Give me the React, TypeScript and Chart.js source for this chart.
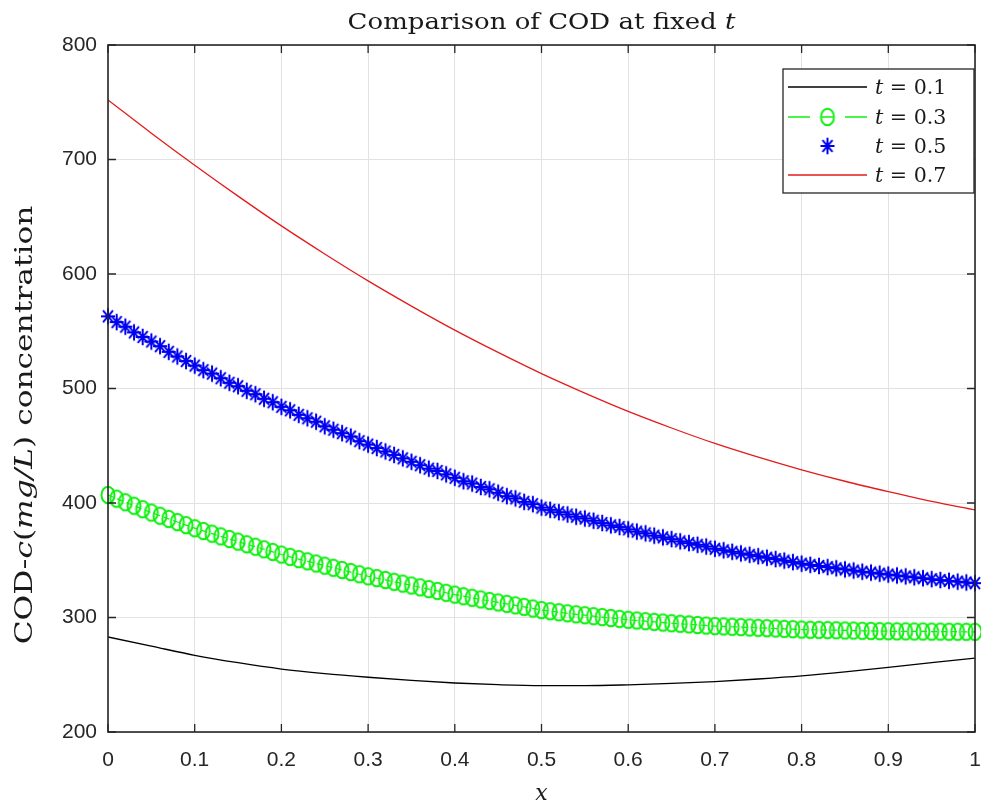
import React, { useEffect, useRef } from "react";
import { Chart, registerables } from "chart.js";

Chart.register(...registerables);

// ---- data ----
const xTicks = [0, 0.1, 0.2, 0.3, 0.4, 0.5, 0.6, 0.7, 0.8, 0.9, 1];
const yTicks = [200, 300, 400, 500, 600, 700, 800];

const xCoarse = [0, 0.05, 0.1, 0.15, 0.2, 0.25, 0.3, 0.35, 0.4, 0.45, 0.5, 0.55, 0.6, 0.65, 0.7, 0.75, 0.8, 0.85, 0.9, 0.95, 1];

const xFine = [
  0, 0.01, 0.02, 0.03, 0.04, 0.05, 0.06, 0.07, 0.08, 0.09,
  0.1, 0.11, 0.12, 0.13, 0.14, 0.15, 0.16, 0.17, 0.18, 0.19,
  0.2, 0.21, 0.22, 0.23, 0.24, 0.25, 0.26, 0.27, 0.28, 0.29,
  0.3, 0.31, 0.32, 0.33, 0.34, 0.35, 0.36, 0.37, 0.38, 0.39,
  0.4, 0.41, 0.42, 0.43, 0.44, 0.45, 0.46, 0.47, 0.48, 0.49,
  0.5, 0.51, 0.52, 0.53, 0.54, 0.55, 0.56, 0.57, 0.58, 0.59,
  0.6, 0.61, 0.62, 0.63, 0.64, 0.65, 0.66, 0.67, 0.68, 0.69,
  0.7, 0.71, 0.72, 0.73, 0.74, 0.75, 0.76, 0.77, 0.78, 0.79,
  0.8, 0.81, 0.82, 0.83, 0.84, 0.85, 0.86, 0.87, 0.88, 0.89,
  0.9, 0.91, 0.92, 0.93, 0.94, 0.95, 0.96, 0.97, 0.98, 0.99, 1,
];

const t01 = [283, 275, 267, 260.5, 255, 251, 247.8, 245, 242.8, 241.3, 240.5, 240.5, 241.2, 242.4, 244, 246.3, 249, 252.5, 256.5, 260.5, 264.5];

const t03 = [
  407, 403.8, 400.7, 397.6, 394.6, 391.7, 388.9, 386.1, 383.4, 380.7,
  378, 375.6, 373.2, 370.9, 368.6, 366.3, 364.0, 361.8, 359.6, 357.3,
  355, 353, 351, 349.1, 347.2, 345.3, 343.4, 341.5, 339.7, 337.8,
  336, 334.4, 332.8, 331.2, 329.6, 328, 326.4, 324.8, 323.2, 321.6,
  320, 318.6, 317.2, 315.8, 314.5, 313.2, 311.9, 310.6, 309.3, 307.9,
  306.5, 305.5, 304.6, 303.7, 302.8, 302, 301.2, 300.4, 299.6, 298.8,
  298, 297.4, 296.8, 296.2, 295.6, 295, 294.5, 294, 293.5, 293,
  292.5, 292.2, 291.9, 291.6, 291.3, 291, 290.7, 290.4, 290.1, 289.8,
  289.5, 289.3, 289.2, 289, 288.9, 288.7, 288.6, 288.4, 288.3, 288.1,
  288, 287.9, 287.9, 287.8, 287.8, 287.7, 287.7, 287.6, 287.6, 287.5, 287.5,
];

const t05 = [
  563, 558, 554, 549, 545, 541, 537, 532, 528, 524,
  520, 516, 513, 509, 505, 502, 498, 495, 491, 488,
  484, 481, 477, 474, 471, 467, 464, 461, 458, 454,
  451, 448, 445, 442, 439, 436, 433, 430, 428, 425,
  422, 419, 417, 414, 412, 409, 406, 404, 401, 399,
  396, 394, 392, 390, 388, 386.5, 384.5, 382.5, 380.5, 379,
  377, 375, 373.5, 371.5, 370, 368.5, 366.5, 365, 363.5, 362,
  360, 358.7, 357.4, 356, 354.8, 353.5, 352.2, 351, 349.7, 348.4,
  347, 346, 345, 344, 343, 342, 341, 340, 339.2, 338.3,
  337.5, 336.7, 335.9, 335.1, 334.3, 333.5, 332.7, 332, 331.3, 330.6, 330,
];

const t07 = [752, 723, 695, 668, 642, 617.5, 594, 572, 551, 531.5, 513, 496, 480, 465.5, 452, 440, 429, 419, 410, 401.5, 394];

const seriesLabels = ["0.1", "0.3", "0.5", "0.7"];
const titleMain = "Comparison of COD at fixed ";
const titleVar = "t";

const SERIF = '"DejaVu Serif", serif';
const AXIS = "#262626";
const GREEN = "#10f010";
const BLUE = "#0000f0";

type Part = { text: string; italic?: boolean };

function makeCircleMarker(): HTMLCanvasElement {
  const c = document.createElement("canvas");
  c.width = 18;
  c.height = 22;
  const g = c.getContext("2d")!;
  g.strokeStyle = GREEN;
  g.lineWidth = 2;
  g.beginPath();
  g.ellipse(9, 11, 6.5, 8.3, 0, 0, Math.PI * 2);
  g.stroke();
  return c;
}

function makeStarMarker(): HTMLCanvasElement {
  const c = document.createElement("canvas");
  c.width = 18;
  c.height = 22;
  const g = c.getContext("2d")!;
  g.strokeStyle = BLUE;
  g.lineWidth = 2;
  const cx = 9, cy = 11, rx = 7, ry = 8.3, qx = 5, qy = 5.9;
  g.beginPath();
  g.moveTo(cx - rx, cy); g.lineTo(cx + rx, cy);
  g.moveTo(cx, cy - ry); g.lineTo(cx, cy + ry);
  g.moveTo(cx - qx, cy - qy); g.lineTo(cx + qx, cy + qy);
  g.moveTo(cx - qx, cy + qy); g.lineTo(cx + qx, cy - qy);
  g.stroke();
  return c;
}

function drawRich(
  ctx: CanvasRenderingContext2D,
  parts: Part[],
  x: number,
  y: number,
  size: number,
  align: "left" | "center",
  stretch = 1
) {
  const fonts = parts.map((p) => `${p.italic ? "italic " : ""}${size}px ${SERIF}`);
  const widths = parts.map((p, i) => {
    ctx.font = fonts[i];
    return ctx.measureText(p.text).width;
  });
  const total = widths.reduce((a, b) => a + b, 0);
  ctx.save();
  ctx.translate(x, y);
  ctx.scale(stretch, 1);
  let cx = align === "center" ? -total / 2 : 0;
  ctx.textAlign = "left";
  ctx.textBaseline = "alphabetic";
  parts.forEach((p, i) => {
    ctx.font = fonts[i];
    ctx.fillText(p.text, cx, 0);
    cx += widths[i];
  });
  ctx.restore();
}

const decor = {
  id: "decor",
  afterDraw(chart: any) {
    const { ctx, chartArea: a, scales } = chart;
    ctx.save();
    // axes box
    ctx.strokeStyle = AXIS;
    ctx.lineWidth = 1.6;
    ctx.strokeRect(a.left, a.top, a.right - a.left, a.bottom - a.top);
    // inward ticks
    ctx.lineWidth = 1.3;
    const tl = 8;
    ctx.beginPath();
    xTicks.forEach((v) => {
      const px = scales.x.getPixelForValue(v);
      ctx.moveTo(px, a.bottom);
      ctx.lineTo(px, a.bottom - tl);
      ctx.moveTo(px, a.top);
      ctx.lineTo(px, a.top + tl);
    });
    yTicks.forEach((v) => {
      const py = scales.y.getPixelForValue(v);
      ctx.moveTo(a.left, py);
      ctx.lineTo(a.left + tl, py);
      ctx.moveTo(a.right, py);
      ctx.lineTo(a.right - tl, py);
    });
    ctx.stroke();

    ctx.fillStyle = "#1a1a1a";
    // title
    drawRich(ctx, [{ text: titleMain }, { text: titleVar, italic: true }], (a.left + a.right) / 2, 29, 23, "center", 1.13);
    // x label
    drawRich(ctx, [{ text: "x", italic: true }], (a.left + a.right) / 2, 800, 22, "center");
    // y label
    ctx.save();
    ctx.translate(32, 425);
    ctx.rotate(-Math.PI / 2);
    drawRich(
      ctx,
      [
        { text: "COD-" },
        { text: "c", italic: true },
        { text: "(" },
        { text: "mg/L", italic: true },
        { text: ") concentration" },
      ],
      0,
      0,
      25,
      "center",
      1.25
    );
    ctx.restore();

    // legend
    const lx = 783, ly = 69, lw = 191, lh = 124;
    ctx.fillStyle = "#fff";
    ctx.fillRect(lx, ly, lw, lh);
    ctx.strokeStyle = AXIS;
    ctx.lineWidth = 1.3;
    ctx.strokeRect(lx, ly, lw, lh);
    const rows = [87, 117, 146, 175];
    const ds = chart.data.datasets;
    rows.forEach((ry, i) => {
      const d = ds[i];
      const x0 = 788, x1 = 867, xm = (x0 + x1) / 2;
      ctx.save();
      if (d.showLine !== false) {
        ctx.strokeStyle = d.borderColor;
        ctx.lineWidth = Math.max(1.3, d.borderWidth || 1);
        ctx.beginPath();
        if (d.borderDash) {
          ctx.moveTo(x0, ry);
          ctx.lineTo(x0 + 22, ry);
          ctx.moveTo(x1 - 22, ry);
          ctx.lineTo(x1, ry);
          ctx.moveTo(xm - 6, ry);
          ctx.lineTo(xm + 6, ry);
        } else {
          ctx.moveTo(x0, ry);
          ctx.lineTo(x1, ry);
        }
        ctx.stroke();
      }
      if (d.pointRadius > 0 && d.pointStyle instanceof HTMLCanvasElement) {
        const im = d.pointStyle as HTMLCanvasElement;
        ctx.drawImage(im, xm - im.width / 2, ry - im.height / 2);
      }
      ctx.restore();
      ctx.fillStyle = "#1a1a1a";
      drawRich(ctx, [{ text: "t", italic: true }, { text: " = " + seriesLabels[i] }], 875, ry + 7, 20, "left", 1.03);
    });
    ctx.restore();
  },
};

export default function App() {
  const ref = useRef<HTMLCanvasElement | null>(null);
  useEffect(() => {
    document.body.style.margin = "0";
    const canvas = ref.current!;
    const pts = (xs: number[], ys: number[]) => xs.map((x, i) => ({ x, y: ys[i] }));
    const circle = makeCircleMarker();
    const star = makeStarMarker();
    const chart = new Chart(canvas, {
      type: "line",
      data: {
        datasets: [
          {
            label: "t = 0.1",
            data: pts(xCoarse, t01),
            borderColor: "#000000",
            borderWidth: 1.3,
            pointRadius: 0,
            cubicInterpolationMode: "monotone",
          },
          {
            label: "t = 0.3",
            data: pts(xFine, t03),
            borderColor: GREEN,
            borderWidth: 1.2,
            borderDash: [6, 4],
            pointStyle: circle,
            pointRadius: 7,
            clip: false,
          },
          {
            label: "t = 0.5",
            data: pts(xFine, t05),
            showLine: false,
            borderColor: BLUE,
            pointStyle: star,
            pointRadius: 7,
            clip: false,
          },
          {
            label: "t = 0.7",
            data: pts(xCoarse, t07),
            borderColor: "#e31b1b",
            borderWidth: 1.3,
            pointRadius: 0,
            cubicInterpolationMode: "monotone",
          },
        ] as any,
      },
      options: {
        responsive: false,
        animation: false,
        events: [],
        layout: { autoPadding: false, padding: { top: 45, right: 6, left: 0, bottom: 0 } },
        plugins: { legend: { display: false }, title: { display: false }, tooltip: { enabled: false } },
        scales: {
          x: {
            type: "linear",
            min: 0,
            max: 1,
            afterBuildTicks: (s: any) => {
              s.ticks = xTicks.map((v) => ({ value: v }));
            },
            afterFit: (s: any) => {
              s.height = 77;
              s.paddingLeft = 0;
              s.paddingRight = 0;
            },
            grid: { color: "#e2e2e2", lineWidth: 1, drawTicks: false },
            border: { display: false },
            ticks: {
              padding: 16,
              color: AXIS,
              font: { family: '"Liberation Sans", Arial, sans-serif', size: 21 },
              maxRotation: 0,
              autoSkip: false,
              callback: (v: any) => String(v),
            },
          },
          y: {
            type: "linear",
            min: 200,
            max: 800,
            afterBuildTicks: (s: any) => {
              s.ticks = yTicks.map((v) => ({ value: v }));
            },
            afterFit: (s: any) => {
              s.width = 108;
              s.paddingTop = 0;
              s.paddingBottom = 0;
            },
            grid: { color: "#e2e2e2", lineWidth: 1, drawTicks: false },
            border: { display: false },
            ticks: {
              padding: 11,
              color: AXIS,
              font: { family: '"Liberation Sans", Arial, sans-serif', size: 21 },
              autoSkip: false,
              callback: (v: any) => String(v),
            },
          },
        },
      },
      plugins: [decor],
    } as any);
    return () => chart.destroy();
  }, []);
  return (
    <div style={{ width: 981, height: 809 }}>
      <canvas ref={ref} width={981} height={809} style={{ display: "block" }} />
    </div>
  );
}
